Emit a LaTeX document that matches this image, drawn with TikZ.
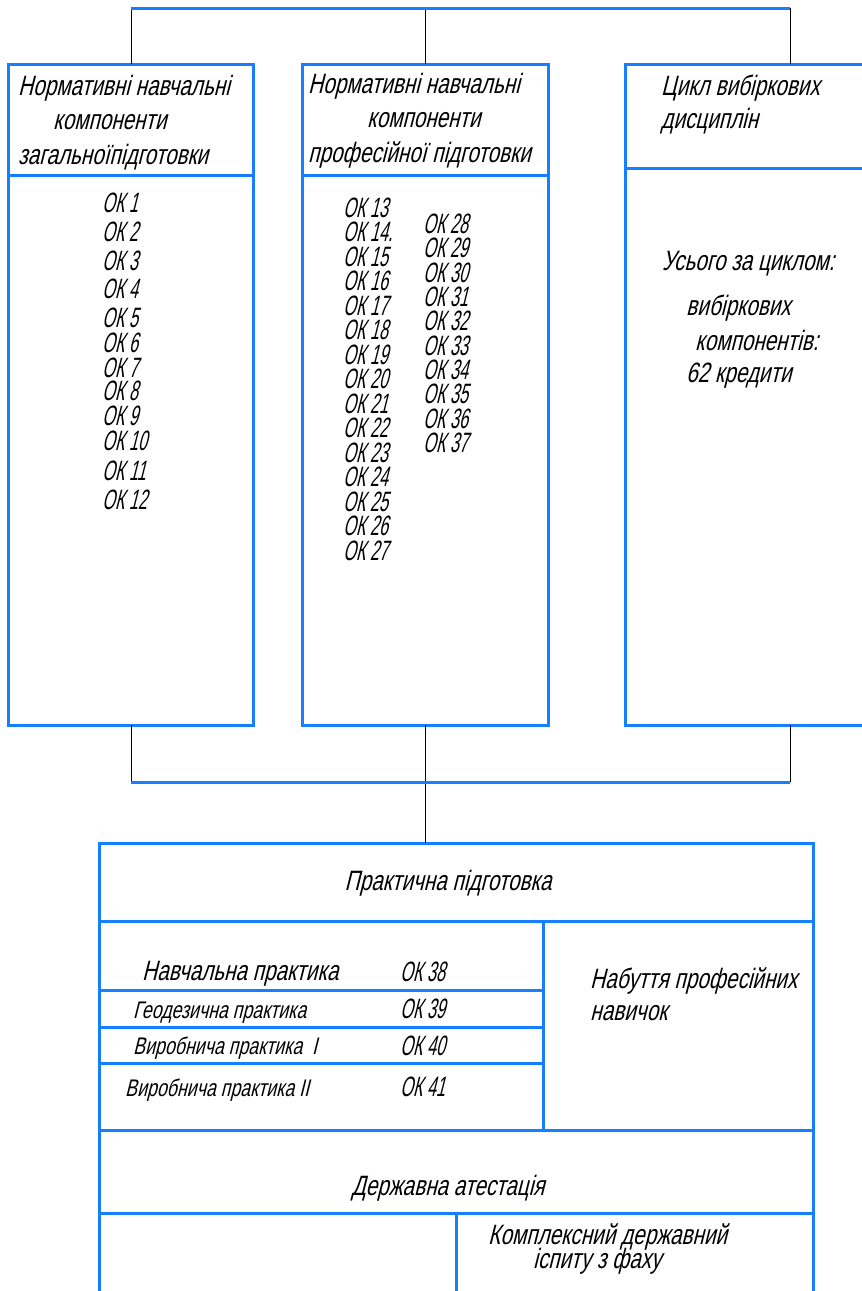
\documentclass[tikz,border=0pt]{standalone}
\usepackage{fontspec}
\setmainfont{Liberation Sans}
\newfontfamily\gost{Liberation Sans}[FakeSlant=0.25,FakeStretch=0.74]
\newfontfamily\gostok{Liberation Sans}[FakeSlant=0.25,FakeStretch=0.58]
\definecolor{lineblue}{RGB}{20,128,255}
\tikzset{
  blbox/.style={draw=lineblue, line width=3pt, rectangle, inner sep=0pt, outer sep=0pt, anchor=north west},
  conn/.style={draw=black, line width=0.9pt},
  bus/.style={draw=lineblue, line width=3pt},
  lbl/.style={anchor=base west, inner sep=0pt, font=\gost\fontsize{28}{30}\selectfont},
  lblc/.style={anchor=base, inner sep=0pt, font=\gost\fontsize{28}{30}\selectfont},
  lbls/.style={anchor=base west, inner sep=0pt, font=\gost\fontsize{24}{26}\selectfont},
  okl/.style={anchor=base west, inner sep=0pt, font=\gostok\fontsize{28}{30}\selectfont}
}
\begin{document}
\begin{tikzpicture}[x=1pt,y=-1pt]
\useasboundingbox (0,0) rectangle (862,1291);
\clip (0,0) rectangle (862,1291);

% top column boxes
\node[blbox, minimum width=245pt, minimum height=111pt] (lhead) at (8,64) {};
\node[blbox, minimum width=245pt, minimum height=550pt] (lbody) at (8,175) {};
\node[blbox, minimum width=246pt, minimum height=111pt] (mhead) at (302,64) {};
\node[blbox, minimum width=246pt, minimum height=550pt] (mbody) at (302,175) {};
\node[blbox, minimum width=260pt, minimum height=104pt] (rhead) at (625,64) {};
\node[blbox, minimum width=260pt, minimum height=557pt] (rbody) at (625,168) {};

% practical training block
\node[blbox, minimum width=714pt, minimum height=78pt] (phead) at (99,843) {};
\node[blbox, minimum width=444pt, minimum height=69pt] (prow1) at (99,921) {};
\node[blbox, minimum width=444pt, minimum height=37pt] (prow2) at (99,990) {};
\node[blbox, minimum width=444pt, minimum height=36pt] (prow3) at (99,1027) {};
\node[blbox, minimum width=444pt, minimum height=67pt] (prow4) at (99,1063) {};
\node[blbox, minimum width=270pt, minimum height=209pt] (pright) at (543,921) {};
\node[blbox, minimum width=714pt, minimum height=83pt] (shead) at (99,1130) {};
\node[blbox, minimum width=357pt, minimum height=100pt] (sleft) at (99,1213) {};
\node[blbox, minimum width=357pt, minimum height=100pt] (sright) at (456,1213) {};

% buses
\coordinate (tb1) at (131,8);
\coordinate (tb2) at (425,8);
\coordinate (tb3) at (790,8);
\coordinate (bb1) at (131,782);
\coordinate (bb2) at (425,782);
\coordinate (bb3) at (790,782);
\draw[conn] (tb1) -- (tb1 |- lhead.north);
\draw[conn] (tb2) -- (tb2 |- mhead.north);
\draw[conn] (tb3) -- (tb3 |- rhead.north);
\draw[conn] (tb1 |- lbody.south) -- (bb1);
\draw[conn] (tb3 |- rbody.south) -- (bb3);
\draw[conn] (tb2 |- mbody.south) -- (bb2 |- phead.north);
\draw[bus] (tb1) -- (tb3);
\draw[bus] (bb1) -- (bb3);

% header texts
\node[lbl] (lh1) at (18,95) {Нормативні навчальні};
\node[lbl] (lh2) at (53,129) {компоненти};
\node[lbl] (lh3) at (18,164) {загальноїпідготовки};
\node[lbl] (mh1) at (308,93) {Нормативні навчальні};
\node[lbl] (mh2) at (367,127) {компоненти};
\node[lbl] (mh3) at (308,162) {професійної підготовки};
\node[lbl] (rh1) at (661,95) {Цикл вибіркових};
\node[lbl] (rh2) at (661,128) {дисциплін};

% left list
\foreach \n/\yy in {1/212,2/241,3/270,4/298,5/327,6/352,7/377,8/400,9/425,10/450,11/480,12/509}
  \node[okl] (ok\n) at (102,\yy) {ОК \n};

% middle lists
\foreach \n/\t/\yy in {13/13/217,14/14./241,15/15/266,16/16/290,17/17/315,18/18/339,19/19/364,20/20/388,21/21/413,22/22/437,23/23/462,24/24/486,25/25/511,26/26/535,27/27/560}
  \node[okl] (ok\n) at (343,\yy) {ОК \t};
\foreach \n/\yy in {28/233,29/257,30/282,31/306,32/330,33/355,34/379,35/403,36/428,37/452}
  \node[okl] (ok\n) at (423,\yy) {ОК \n};

% right body
\node[lbl] (rb1) at (662,270) {Усього за циклом:};
\node[lbl] (rb2) at (686,315) {вибіркових};
\node[lbl] (rb3) at (695,350) {компонентів:};
\node[lbl] (rb4) at (686,382) {62 кредити};

% practical
\node[lblc] (pt) at (448,890) {Практична підготовка};
\node[lbl] (p1) at (142,980) {Навчальна практика};
\node[okl] (o38) at (400,981) {ОК 38};
\node[lbls] (p2) at (133,1018) {Геодезична практика};
\node[okl] (o39) at (400,1018) {ОК 39};
\node[lbls] (p3) at (133,1054) {Виробнича практика\ \ І};
\node[okl] (o40) at (400,1055) {ОК 40};
\node[lbls] (p4) at (125,1096) {Виробнича практика ІІ};
\node[okl] (o41) at (400,1096) {ОК 41};
\node[lbl] (pr1) at (590,988) {Набуття професійних};
\node[lbl] (pr2) at (590,1020) {навичок};

% state attestation
\node[lblc] (st) at (448,1195) {Державна атестація};
\node[lbl] (s1) at (488,1244) {Комплексний державний};
\node[lbl] (s2) at (533,1268) {іспиту з фаху};
\end{tikzpicture}
\end{document}
